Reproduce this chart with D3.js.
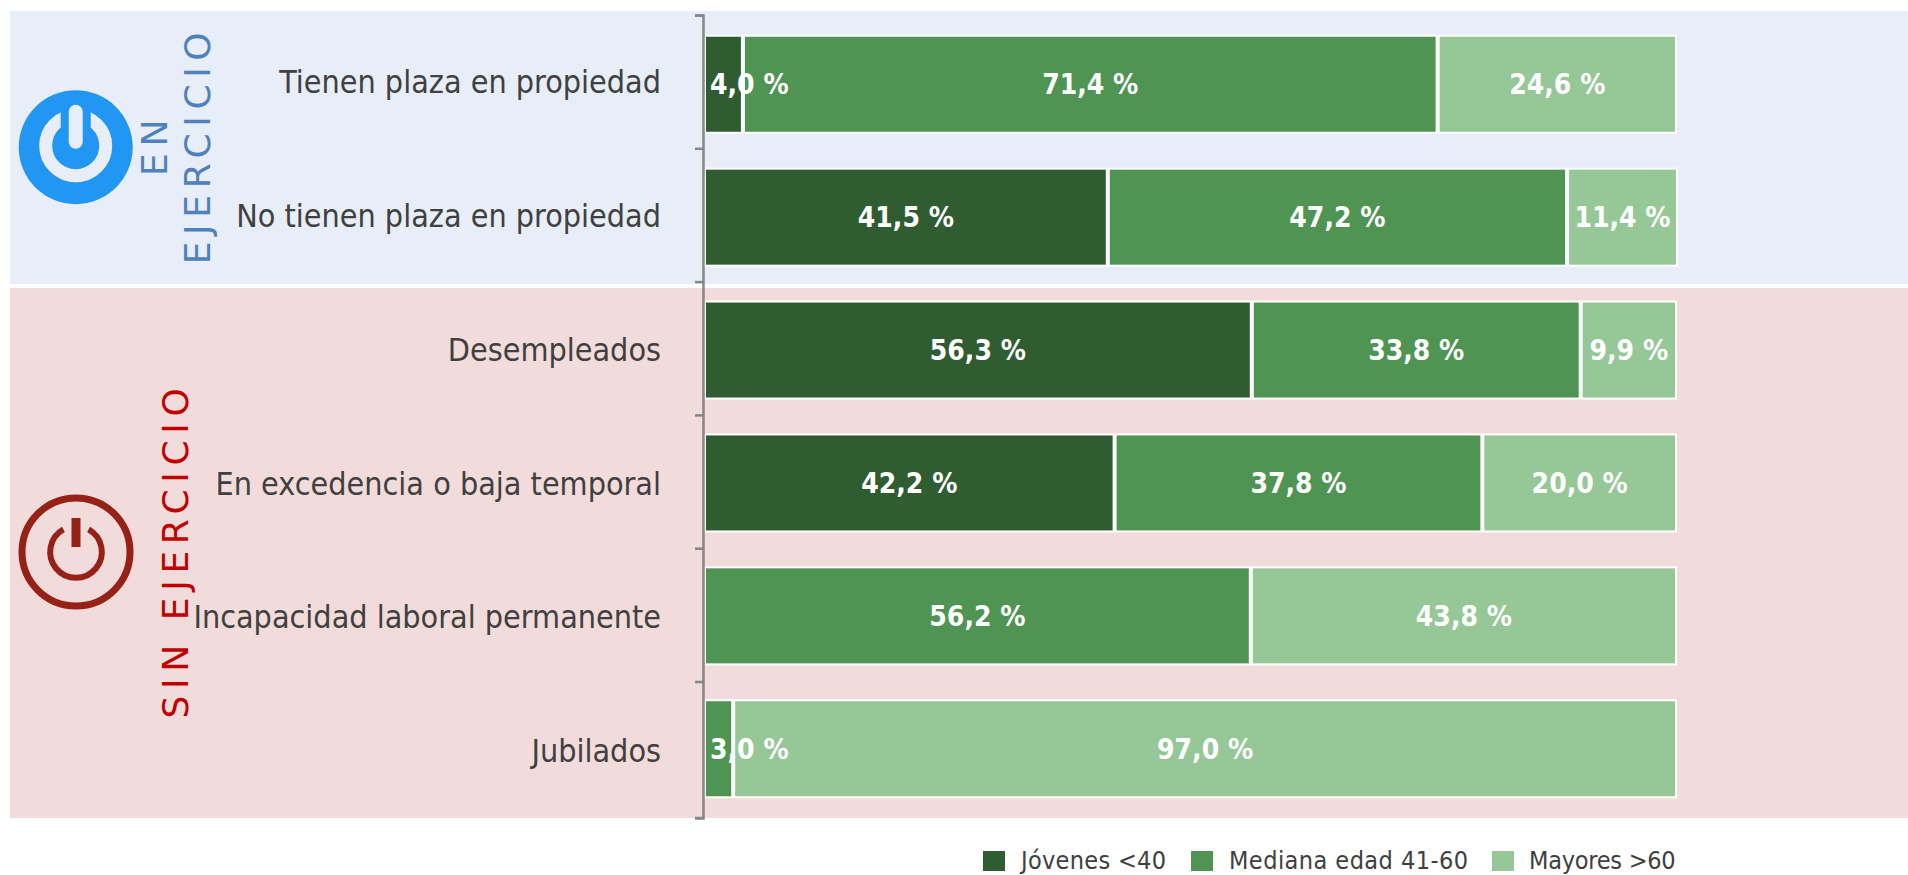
<!DOCTYPE html>
<html>
<head>
<meta charset="utf-8">
<script src="https://cdn.jsdelivr.net/npm/d3@7"></script>
<style>
  html, body { margin: 0; padding: 0; background: #fff; }
  svg { display: block; }
  text { font-family: "DejaVu Sans Condensed", "DejaVu Sans", sans-serif; font-stretch: condensed; }
</style>
</head>
<body>
<svg id="chart"></svg>
<script>
const categories = ["Tienen plaza en propiedad", "No tienen plaza en propiedad", "Desempleados",
    "En excedencia o baja temporal", "Incapacidad laboral permanente", "Jubilados"];
const seriesNames = ["Jóvenes <40", "Mediana edad 41-60", "Mayores >60"];
const jovenes = [4.0, 41.5, 56.3, 42.2, 0, 0];
const mediana = [71.4, 47.2, 33.8, 37.8, 56.2, 3.0];
const mayores = [24.6, 11.4, 9.9, 20.0, 43.8, 97.0];
const colors = ["#305c32", "#4f9452", "#96c796"];

const width = 1908;
const height = 875;
const svg = d3.select("#chart").attr("width", width).attr("height", height);

const x = d3.scaleLinear().domain([0, 100]).range([704, 1677]);
// bars sit on a slightly tighter grid than the axis labels
const y = d3.scaleBand().domain(categories).range([17.8, 815.2]).paddingInner(0.27).paddingOuter(0.135);
const yAxis = d3.scaleBand().domain(categories).range([15, 818]);

// background bands
svg.append("rect").attr("x", 10).attr("y", 11).attr("width", width - 10).attr("height", 273).attr("fill", "#e8eef7");
svg.append("rect").attr("x", 10).attr("y", 288).attr("width", width - 10).attr("height", 530).attr("fill", "#f2dcdb");

// stacked bars
const rows = categories.map((c, i) => ({ cat: c, a: jovenes[i], b: mediana[i], c: mayores[i] }));
const stacked = d3.stack().keys(["a", "b", "c"])(rows);

const groups = svg.selectAll(".serie").data(stacked).enter().append("g")
    .attr("class", "serie").attr("fill", (d, i) => colors[i]);

groups.selectAll("rect").data(d => d).enter().append("rect")
    .filter(d => d[1] > d[0])
    .attr("x", d => x(d[0]) + 1)
    .attr("y", d => y(d.data.cat))
    .attr("width", d => x(d[1]) - x(d[0]) - 2)
    .attr("height", y.bandwidth())
    .attr("stroke", "#fff")
    .attr("stroke-width", 2);

// labels go on top of every bar, narrow segments get pushed right to stay inside the plot
const labels = svg.append("g");
stacked.forEach(serie => {
    serie.filter(d => d[1] > d[0]).forEach(d => {
        const t = labels.append("text")
            .attr("y", y(d.data.cat) + y.bandwidth() / 2)
            .attr("dy", "0.36em")
            .attr("text-anchor", "middle")
            .attr("fill", "#fff")
            .attr("font-weight", "bold")
            .attr("font-size", 28)
            .text((d[1] - d[0]).toFixed(1).replace(".", ",") + " %");
        const half = t.node().getComputedTextLength() / 2;
        t.attr("x", Math.max(x((d[0] + d[1]) / 2), x(0) + 6 + half));
    });
});

// category axis
const axis = svg.append("g").attr("transform", "translate(703,0)")
    .call(d3.axisLeft(yAxis).tickSize(8).tickPadding(34));
axis.select(".domain").attr("stroke", "#868686").attr("stroke-width", 2.5);
axis.selectAll(".tick text").attr("font-size", 32).attr("fill", "#404040").attr("font-family", null).attr("dy", "0.35em");
axis.selectAll(".tick line").remove();
const edges = d3.range(categories.length).map(i => 15.5 + i * 133.3).concat([yAxis.range()[1]]);
axis.selectAll(".edge").data(edges).enter().append("line")
    .attr("class", "edge").attr("x1", -8).attr("x2", 0)
    .attr("y1", d => d).attr("y2", d => d)
    .attr("stroke", "#868686").attr("stroke-width", 2.5);

// vertical group titles
function vtitle(txt, cx, cy, col) {
    svg.append("text").attr("transform", `translate(${cx},${cy}) rotate(-90)`)
        .attr("text-anchor", "middle").attr("dy", "0.36em")
        .attr("fill", col).attr("font-size", 36).attr("letter-spacing", 6.6)
        .style("font-stretch", "normal").style("font-family", "'DejaVu Sans'").text(txt);
}
vtitle("EN", 153.6, 144.5, "#4f81bd");
vtitle("EJERCICIO", 197.2, 145, "#4f81bd");
vtitle("SIN EJERCICIO", 175.5, 550, "#c00000");

// power icons
function powerOn(cx, cy) {
    const blue = "#2196f3", bg = "#e8eef7";
    const g = svg.append("g").attr("transform", `translate(${cx},${cy})`);
    g.append("circle").attr("cy", 1.5).attr("r", 57).attr("fill", blue);
    g.append("circle").attr("r", 30).attr("fill", "none").attr("stroke", bg).attr("stroke-width", 13);
    g.append("rect").attr("x", -15).attr("y", -44).attr("width", 30).attr("height", 44).attr("fill", blue);
    g.append("line").attr("y1", -34).attr("y2", -4).attr("stroke", bg).attr("stroke-width", 14).attr("stroke-linecap", "round");
}
function powerOff(cx, cy) {
    const red = "#962116";
    const g = svg.append("g").attr("transform", `translate(${cx},${cy})`);
    g.append("circle").attr("r", 54).attr("fill", "none").attr("stroke", red).attr("stroke-width", 7);
    g.append("path").attr("fill", "none").attr("stroke", red).attr("stroke-width", 6)
        .attr("d", d3.arc().innerRadius(25.8).outerRadius(25.8).startAngle(0.51).endAngle(2 * Math.PI - 0.51)());
    g.append("line").attr("y1", -34).attr("y2", -5).attr("stroke", red).attr("stroke-width", 9);
}
powerOn(75.7, 145.7);
powerOff(76, 552);

// legend
const legendSwatch = [983, 1191, 1492];
const legendText = [1021, 1229, 1529];
const legendSpacing = [0.3, 0.45, -0.25];
seriesNames.forEach((s, i) => {
    svg.append("rect").attr("x", legendSwatch[i]).attr("y", 851).attr("width", 22).attr("height", 20).attr("fill", colors[i]);
    svg.append("text").attr("x", legendText[i]).attr("y", 869).attr("font-size", 25)
        .attr("letter-spacing", legendSpacing[i]).attr("fill", "#404040").text(s);
});
</script>
</body>
</html>
